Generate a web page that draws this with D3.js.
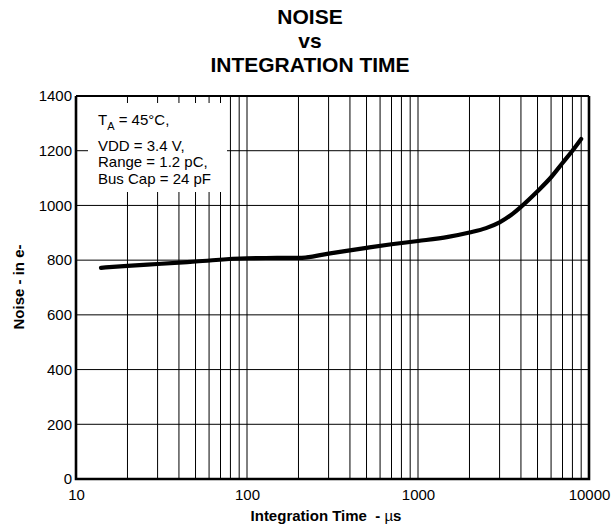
<!DOCTYPE html>
<html><head><meta charset="utf-8">
<script src="https://cdn.jsdelivr.net/npm/d3@7"></script>
<style>
body{margin:0;background:#fff;}
svg{display:block;}
text{font-family:"Liberation Sans",Arial,sans-serif;fill:#000;}
</style></head>
<body><svg id="c" width="616" height="527"></svg>
<script>
const titleLines = ["NOISE", "vs", "INTEGRATION TIME"];
const timeUs = [14, 20, 30, 50, 100, 150, 200, 300, 500, 700, 1000, 1500, 2000, 2500, 3000, 3500, 4000, 5000, 6000, 7000, 8000, 9000];
const noiseE = [772, 779, 786, 795, 807, 808, 808, 824, 845, 858, 870, 885, 901, 917, 938, 965, 995, 1052, 1103, 1155, 1200, 1243];
const xTicks = [10, 100, 1000, 10000];
const yTicks = [0, 200, 400, 600, 800, 1000, 1200, 1400];
const notes = ["VDD = 3.4 V,", "Range = 1.2 pC,", "Bus Cap = 24 pF"];

const svg = d3.select("#c");
const L = 76, R = 589, T = 96, B = 479;
const x = d3.scaleLog().domain([10, 10000]).range([L, R]);
const y = d3.scaleLinear().domain([0, 1400]).range([B, T]);

// title
svg.append("g").selectAll("text").data(titleLines).join("text")
  .attr("x", 310).attr("y", (d, i) => [24, 48, 72][i])
  .attr("text-anchor", "middle").style("font-size", "21px").style("font-weight", "bold")
  .text(d => d);

// grid
const minor = [];
for (let k = 10; k < 10000; k *= 10) for (let m = 1; m <= 9; m++) { const v = k * m; if (v > 10) minor.push(v); }
svg.append("g").selectAll("line").data(minor).join("line")
  .attr("x1", d => x(d)).attr("x2", d => x(d)).attr("y1", T).attr("y2", B)
  .attr("stroke", "#000").attr("stroke-width", 1);
svg.append("g").selectAll("line").data(yTicks.slice(1, -1)).join("line")
  .attr("x1", L).attr("x2", R).attr("y1", d => y(d)).attr("y2", d => y(d))
  .attr("stroke", "#000").attr("stroke-width", 1);

// annotation box
svg.append("rect").attr("x", 88).attr("y", 103).attr("width", 139).attr("height", 89).attr("fill", "#fff");
const t1 = svg.append("text").attr("x", 98).attr("y", 125).style("font-size", "15px");
t1.append("tspan").text("T");
t1.append("tspan").attr("dy", 5).style("font-size", "11px").text("A");
t1.append("tspan").attr("dy", -5).text(" = 45°C,");
svg.append("g").selectAll("text").data(notes).join("text")
  .attr("x", 98).attr("y", (d, i) => 151 + i * 16.3).style("font-size", "15px").text(d => d);

// curve
svg.append("path").datum(timeUs.map((t, i) => [t, noiseE[i]]))
  .attr("fill", "none").attr("stroke", "#000").attr("stroke-width", 4.2)
  .attr("stroke-linecap", "round").attr("stroke-linejoin", "round")
  .attr("d", d3.line().x(d => x(d[0])).y(d => y(d[1])).curve(d3.curveMonotoneX));

// frame
svg.append("path").attr("d", `M${L},${T}H${R}`).attr("stroke", "#000").attr("stroke-width", 2);
svg.append("path").attr("d", `M${L},${T}V${B}H${R}V${T}`).attr("fill", "none")
  .attr("stroke", "#000").attr("stroke-width", 2.6);

// axes
const xa = svg.append("g").attr("transform", `translate(0,${B})`)
  .call(d3.axisBottom(x).tickValues(xTicks).tickFormat(d3.format("d")).tickSize(0).tickPadding(10));
xa.select(".domain").remove();
xa.selectAll("text").style("font-size", "15px").style("font-family", '"Liberation Sans",Arial,sans-serif');
const ya = svg.append("g").attr("transform", `translate(${L},0)`)
  .call(d3.axisLeft(y).tickValues(yTicks).tickFormat(d3.format("d")).tickSize(0).tickPadding(4));
ya.select(".domain").remove();
ya.selectAll("text").style("font-size", "15px").style("font-family", '"Liberation Sans",Arial,sans-serif');

// axis titles
const xt = svg.append("text").attr("x", 326).attr("y", 521).attr("text-anchor", "middle")
  .style("font-size", "15px").style("font-weight", "bold");
xt.append("tspan").text("Integration Time\u00a0 - ");
xt.append("tspan").style("font-weight", "normal").text("µ");
xt.append("tspan").text("s");
svg.append("text").attr("transform", "translate(24,287) rotate(-90)").attr("text-anchor", "middle")
  .style("font-size", "15px").style("font-weight", "bold").text("Noise - in e-");
</script></body></html>
